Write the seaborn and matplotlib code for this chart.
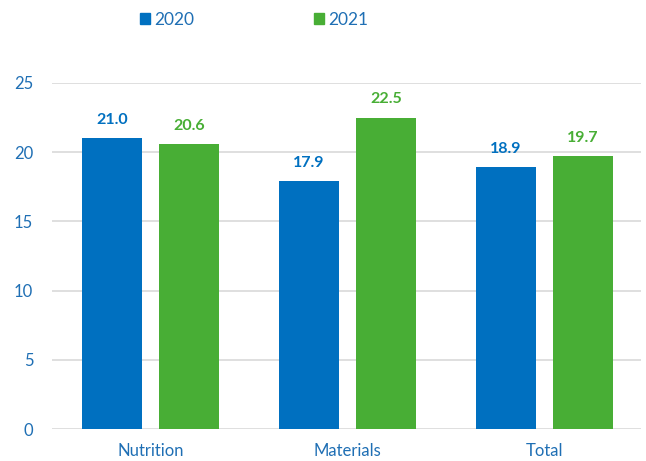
import matplotlib
matplotlib.use("Agg")
import matplotlib.pyplot as plt
import seaborn as sns
import pandas as pd
from matplotlib.patches import Patch

categories = ["Nutrition", "Materials", "Total"]
years = ["2020", "2021"]
values_2020 = [21.0, 17.9, 18.9]
values_2021 = [20.6, 22.5, 19.7]
colors = {"2020": "#0070C0", "2021": "#48AE35"}
text_blue = "#1F6FB4"

df = pd.DataFrame({
    "category": categories * 2,
    "year": [years[0]] * 3 + [years[1]] * 3,
    "value": values_2020 + values_2021,
})

sns.set_style("white")
plt.rcParams['font.family'] = ['Lato', 'DejaVu Sans']

fig = plt.figure(figsize=(6.46, 4.61), dpi=100)
ax = fig.add_axes([0.0805, 0.069, 0.912, 0.751])

sns.barplot(data=df, x="category", y="value", hue="year", palette=colors,
            width=0.78, gap=0.22, ax=ax, legend=False, saturation=1,
            edgecolor=None, linewidth=0)

for cont, yr in zip(ax.containers, years):
    ax.bar_label(cont, fmt="%.1f", padding=8, color=colors[yr],
                 fontsize=11.5, fontweight="bold")

ax.set_ylim(0, 25)
ax.set_xlim(-0.5, 2.49)
ax.set_yticks([0, 5, 10, 15, 20, 25])
ax.grid(axis="y", color="#d9d9d9", linewidth=1.2)
ax.set_axisbelow(True)
for s in ax.spines.values():
    s.set_visible(False)
ax.set_xlabel("")
ax.set_ylabel("")
ax.tick_params(axis="y", labelsize=12, length=0, pad=13.5)
ax.tick_params(axis="x", labelsize=12, length=0, pad=10)
for lbl in ax.get_yticklabels() + ax.get_xticklabels():
    lbl.set_color(text_blue)

handles = [Patch(color=colors[y], label=y) for y in years]
leg = fig.legend(handles=handles, loc="upper left", bbox_to_anchor=(0.192, 1.008),
                 ncol=2, frameon=False, fontsize=12.5, handlelength=0.62,
                 handleheight=0.62, handletextpad=0.2, columnspacing=6.9)
for t in leg.get_texts():
    t.set_color(text_blue)

fig.savefig("out.png", dpi=100)
